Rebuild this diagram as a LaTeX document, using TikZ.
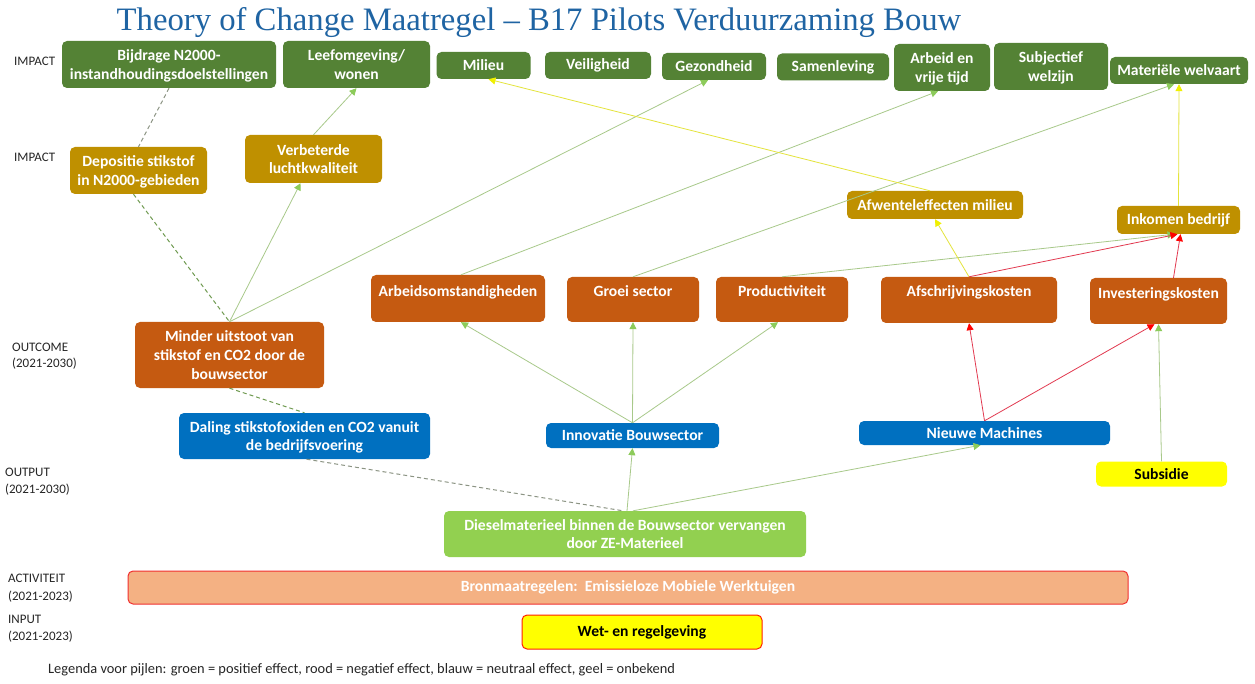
\documentclass[tikz,border=0pt]{standalone}
\usepackage{fontspec}
\setmainfont{Carlito}
\newfontfamily\titlefont{Liberation Serif}
\usetikzlibrary{arrows.meta}
\definecolor{dkgreen}{HTML}{548235}
\definecolor{gold}{HTML}{BF9000}
\definecolor{orng}{HTML}{C55A11}
\definecolor{blu}{HTML}{0070C0}
\definecolor{yel}{HTML}{FFFF00}
\definecolor{ltgreen}{HTML}{92D050}
\definecolor{salmon}{HTML}{F4B183}
\definecolor{titleblue}{HTML}{1F64A3}
\definecolor{gline}{HTML}{A8C98A}
\definecolor{gtip}{HTML}{8CCB5A}
\definecolor{rline}{HTML}{E23A50}
\definecolor{rtip}{HTML}{FF0000}
\definecolor{yline}{HTML}{E4E43C}
\definecolor{ytip}{HTML}{F0F000}
\definecolor{dgray}{HTML}{8C9484}
\definecolor{dgreen}{HTML}{6F9A50}
\definecolor{bordred}{HTML}{F03030}
\newcommand\boxfont{\fontsize{15.6}{18.6}\selectfont\bfseries}
\newcommand\labfont{\fontsize{13}{16}\selectfont}
\tikzset{
  box/.style={rounded corners=5pt, inner sep=0pt, align=center, text=white, font=\boxfont},
  multi/.style={text depth=0pt},
  gbox/.style={box, fill=dkgreen},
  ybox/.style={box, fill=gold},
  obox/.style={box, fill=orng},
  bbox/.style={box, fill=blu},
  lab/.style={anchor=west, inner sep=0pt, font=\labfont, text=black!85},
  garr/.style={draw=gline, line width=0.8pt, -{Triangle[length=7pt,width=7pt,color=gtip]}},
  rarr/.style={draw=rline, line width=0.8pt, -{Triangle[length=7pt,width=7pt,color=rtip]}},
  yarr/.style={draw=yline, line width=0.8pt, -{Triangle[length=7pt,width=7pt,color=ytip]}},
  dshgray/.style={draw=dgray, line width=1pt, dash pattern=on 4pt off 3pt},
  dshgreen/.style={draw=dgreen, line width=1pt, dash pattern=on 4pt off 3pt},
}
\begin{document}
\begin{tikzpicture}[x=1pt,y=-1pt]
\useasboundingbox[fill=white] (0,0) rectangle (1255,684);
% title
\node[inner sep=0pt, text=titleblue, font=\titlefont\fontsize{32.7}{36}\selectfont] (title) at (539,23) {Theory of Change Maatregel – B17 Pilots Verduurzaming Bouw};
% left labels
\node[lab] (l1) at (14,61) {IMPACT};
\node[lab] (l2) at (14,157) {IMPACT};
\node[lab] (l3) at (12,347) {OUTCOME};
\node[lab] (l4) at (12,364) {(2021-2030)};
\node[lab] (l5) at (5,472) {OUTPUT};
\node[lab] (l6) at (5,490) {(2021-2030)};
\node[lab] (l7) at (8,578) {ACTIVITEIT};
\node[lab] (l8) at (8,597) {(2021-2023)};
\node[lab] (l9) at (8,619) {INPUT};
\node[lab] (l10) at (8,637) {(2021-2023)};
\node[lab, font=\fontsize{14.4}{17}\selectfont] (leg) at (48,670) {Legenda voor pijlen: groen = positief effect, rood = negatief effect, blauw = neutraal effect, geel = onbekend};
% top impact row
\node[gbox, multi, minimum width=214pt, minimum height=47pt] (bij) at (169,64.5) {Bijdrage N2000-\\instandhoudingsdoelstellingen};
\node[gbox, multi, minimum width=147pt, minimum height=47pt] (leef) at (356.5,64.5) {Leefomgeving/\\wonen};
\node[gbox, minimum width=94pt, minimum height=27pt] (mil) at (483.5,65.5) {Milieu};
\node[gbox, minimum width=106pt, minimum height=27pt] (vei) at (598,65.5) {Veiligheid};
\node[gbox, minimum width=104pt, minimum height=27pt] (gez) at (714,66.5) {Gezondheid};
\node[gbox, minimum width=112pt, minimum height=27pt] (sam) at (833,67) {Samenleving};
\node[gbox, multi, minimum width=96pt, minimum height=47pt] (arb) at (942,67.5) {Arbeid en\\vrije tijd};
\node[gbox, multi, minimum width=114pt, minimum height=47pt] (sub) at (1051,66.5) {Subjectief\\welzijn};
\node[gbox, minimum width=138pt, minimum height=27pt] (mat) at (1179,70.5) {Materiële welvaart};
% second impact row
\node[ybox, multi, minimum width=137pt, minimum height=47pt] (dep) at (138.5,170.5) {Depositie stikstof\\in N2000-gebieden};
\node[ybox, multi, minimum width=137pt, minimum height=48pt] (ver) at (313.5,159) {Verbeterde\\luchtkwaliteit};
\node[ybox, minimum width=176pt, minimum height=28pt] (afw) at (935,205) {Afwenteleffecten milieu};
\node[ybox, minimum width=123pt, minimum height=28pt] (ink) at (1178.5,220) {Inkomen bedrijf};
% outcome row
\node[obox, multi, minimum width=189pt, minimum height=66pt] (min) at (229.5,355) {Minder uitstoot van\\stikstof en CO2 door de\\bouwsector};
\node[rounded corners=5pt, inner sep=0pt, text=white, font=\boxfont, fill=orng, minimum width=174pt, text height=22pt, text depth=25pt] (arbo) at (458,298.5) {Arbeidsomstandigheden};
\node[rounded corners=5pt, inner sep=0pt, text=white, font=\boxfont, fill=orng, minimum width=132pt, text height=20pt, text depth=25pt] (gro) at (633,299.5) {Groei sector};
\node[rounded corners=5pt, inner sep=0pt, text=white, font=\boxfont, fill=orng, minimum width=132pt, text height=20pt, text depth=25pt] (pro) at (782,299.5) {Productiviteit};
\node[rounded corners=5pt, inner sep=0pt, text=white, font=\boxfont, fill=orng, minimum width=176pt, text height=20pt, text depth=26pt] (afs) at (969,300) {Afschrijvingskosten};
\node[rounded corners=5pt, inner sep=0pt, text=white, font=\boxfont, fill=orng, minimum width=137pt, text height=21pt, text depth=25pt] (inv) at (1158.5,301) {Investeringskosten};
% output row
\node[bbox, multi, minimum width=251pt, minimum height=46pt] (dal) at (304.5,436) {Daling stikstofoxiden en CO2 vanuit\\de bedrijfsvoering};
\node[bbox, minimum width=173pt, minimum height=25pt] (inn) at (632.5,435.5) {Innovatie Bouwsector};
\node[bbox, minimum width=251pt, minimum height=24pt] (nie) at (984.5,433) {Nieuwe Machines};
\node[box, fill=yel, text=black, minimum width=131pt, minimum height=25pt] (subs) at (1161.5,474) {Subsidie};
% activity / input
\node[box, multi, fill=ltgreen, minimum width=362pt, minimum height=46pt] (die) at (625,534) {Dieselmaterieel binnen de Bouwsector vervangen\\door ZE-Materieel};
\node[box, fill=salmon, draw=bordred, line width=1pt, minimum width=1000pt, minimum height=33pt] (bron) at (628,587.5) {Bronmaatregelen:\ \ Emissieloze Mobiele Werktuigen};
\node[box, fill=yel, text=black, draw=red!75!orange, line width=1pt, minimum width=240pt, minimum height=34pt] (wet) at (642,632) {Wet- en regelgeving};
% connectors
\draw[dshgray] ([xshift=0pt]bij.south) -- (dep.north);
\draw[dshgreen] ([xshift=-5pt]dep.south) -- (min.north);
\draw[garr] (min.north) -- ([xshift=-13pt]ver.south);
\draw[garr] (ver.north) -- (leef.south);
\draw[garr] (min.north) -- ([xshift=-6pt]gez.south);
\draw[garr] ([xshift=3pt]arbo.north) -- ([xshift=-4pt]arb.south);
\draw[garr] (gro.north) -- ([xshift=-5pt]mat.south);
\draw[garr] (pro.north) -- ([xshift=-4pt]ink.south);
\draw[yarr] (afs.north) -- (afw.south);
\draw[rarr] (afs.north) -- ([xshift=-1pt]ink.south);
\draw[rarr] ([xshift=15pt]inv.north) -- ([xshift=2pt]ink.south);
\draw[yarr] (ink.north) -- (mat.south);
\draw[yarr] ([xshift=-5pt]afw.north) -- ([xshift=5pt]mil.south);
\draw[garr] (inn.north) -- ([xshift=3pt]arbo.south);
\draw[garr] (inn.north) -- (gro.south);
\draw[garr] (inn.north) -- ([xshift=-4pt]pro.south);
\draw[rarr] (nie.north) -- (afs.south);
\draw[rarr] (nie.north) -- ([xshift=-4pt]inv.south);
\draw[garr] (subs.north) -- (inv.south);
\draw[garr] ([xshift=2pt]die.north) -- (inn.south);
\draw[garr] ([xshift=8pt]die.north) -- ([xshift=-4pt]nie.south);
\draw[dshgreen] (min.south) -- (dal.north);
\draw[dshgray] ([xshift=2pt]dal.south) -- ([xshift=-2pt]die.north);
\end{tikzpicture}
\end{document}
